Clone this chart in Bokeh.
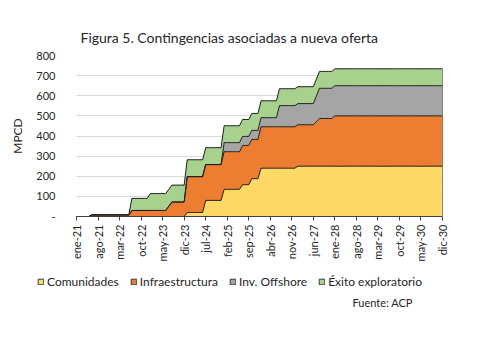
import math
from bokeh.plotting import figure
from bokeh.layouts import column, row
from bokeh.models import Range1d, FixedTicker, Legend, LegendItem, Label, ColumnDataSource
from bokeh.embed import file_html
from bokeh.resources import INLINE

# ---------------- data (MPCD, monthly from ene-21 to dic-30) ----------------
month_names = ["ene", "feb", "mar", "abr", "may", "jun", "jul", "ago", "sep", "oct", "nov", "dic"]
years = ["21", "22", "23", "24", "25", "26", "27", "28", "29", "30"]
month_labels = [f"{mn}-{yy}" for yy in years for mn in month_names]

tick_every = 7

comunidades = [
    0, 0, 0, 0, 0, 0, 0, 0, 0, 0, 0, 0,                                  # 2021
    0, 0, 0, 0, 0, 0, 0, 0, 0, 0, 0, 0,                                  # 2022
    0, 0, 0, 0, 0, 0, 0, 0, 0, 0, 0, 0,                                  # 2023
    20, 20, 20, 20, 20, 20, 80, 80, 80, 80, 80, 80,                      # 2024
    135, 135, 135, 135, 135, 135, 158, 158, 158, 188, 188, 188,          # 2025
    240, 240, 240, 240, 240, 240, 240, 240, 240, 240, 240, 240,          # 2026
    250, 250, 250, 250, 250, 250, 250, 250, 250, 250, 250, 250,          # 2027
    250, 250, 250, 250, 250, 250, 250, 250, 250, 250, 250, 250,          # 2028
    250, 250, 250, 250, 250, 250, 250, 250, 250, 250, 250, 250,          # 2029
    250, 250, 250, 250, 250, 250, 250, 250, 250, 250, 250, 250,          # 2030
]
infraestructura = [
    0, 0, 0, 0, 0, 8, 8, 8, 8, 8, 8, 8,                                  # 2021
    8, 8, 8, 8, 8, 8, 30, 30, 30, 30, 30, 30,                            # 2022
    30, 30, 30, 30, 30, 30, 51, 72, 72, 72, 72, 72,                      # 2023
    178, 178, 178, 178, 178, 178, 178, 178, 178, 178, 178, 178,          # 2024
    187, 187, 187, 187, 187, 187, 195, 195, 195, 195, 195, 195,          # 2025
    206, 206, 206, 206, 206, 206, 206, 206, 206, 206, 206, 206,          # 2026
    206, 206, 206, 206, 206, 206, 221, 237, 237, 237, 237, 237,          # 2027
    250, 250, 250, 250, 250, 250, 250, 250, 250, 250, 250, 250,          # 2028
    250, 250, 250, 250, 250, 250, 250, 250, 250, 250, 250, 250,          # 2029
    250, 250, 250, 250, 250, 250, 250, 250, 250, 250, 250, 250,          # 2030
]
offshore = [
    0, 0, 0, 0, 0, 0, 0, 0, 0, 0, 0, 0,                                  # 2021
    0, 0, 0, 0, 0, 0, 0, 0, 0, 0, 0, 0,                                  # 2022
    0, 0, 0, 0, 0, 0, 0, 0, 0, 0, 0, 0,                                  # 2023
    0, 0, 0, 0, 0, 0, 0, 0, 0, 0, 0, 0,                                  # 2024
    45, 45, 45, 45, 45, 45, 45, 45, 45, 45, 45, 45,                      # 2025
    45, 45, 45, 45, 45, 45, 105, 105, 105, 105, 105, 105,                # 2026
    105, 105, 105, 105, 105, 105, 128, 150, 150, 150, 150, 150,          # 2027
    150, 150, 150, 150, 150, 150, 150, 150, 150, 150, 150, 150,          # 2028
    150, 150, 150, 150, 150, 150, 150, 150, 150, 150, 150, 150,          # 2029
    150, 150, 150, 150, 150, 150, 150, 150, 150, 150, 150, 150,          # 2030
]
exito = [
    0, 0, 0, 0, 0, 0, 0, 0, 0, 0, 0, 0,                                  # 2021
    0, 0, 0, 0, 0, 0, 60, 60, 60, 60, 60, 60,                            # 2022
    84, 84, 84, 84, 84, 84, 84, 84, 84, 84, 84, 84,                      # 2023
    84, 84, 84, 84, 84, 84, 84, 84, 84, 84, 84, 84,                      # 2024
    84, 84, 84, 84, 84, 84, 84, 84, 84, 84, 84, 84,                      # 2025
    84, 84, 84, 84, 84, 84, 84, 84, 84, 84, 84, 84,                      # 2026
    84, 84, 84, 84, 84, 84, 84, 84, 84, 84, 84, 84,                      # 2027
    84, 84, 84, 84, 84, 84, 84, 84, 84, 84, 84, 84,                      # 2028
    84, 84, 84, 84, 84, 84, 84, 84, 84, 84, 84, 84,                      # 2029
    84, 84, 84, 84, 84, 84, 84, 84, 84, 84, 84, 84,                      # 2030
]

series_names = ["Comunidades", "Infraestructura", "Inv. Offshore", "Éxito exploratorio"]
series_values = [comunidades, infraestructura, offshore, exito]
series_colors = ["#FFD966", "#ED7D31", "#A5A5A5", "#A9D18E"]

y_ticks = [0, 100, 200, 300, 400, 500, 600, 700, 800]
y_tick_labels = ["-", "100", "200", "300", "400", "500", "600", "700", "800"]

title_text = "Figura 5. Contingencias asociadas a nueva oferta"
source_text = "Fuente: ACP"
y_label = "MPCD"

# ---------------- layout constants ----------------
FONT = "Lato"
TXT = "#262626"
EDGE = "#1e1e1e"
W = 493
H_TOP = 45
H_MAIN = 221
H_LEG = 346 - H_TOP - H_MAIN


def strip(height):
    """A blank pixel-coordinate canvas (y grows downward) for titles / legend."""
    f = figure(width=W, height=height, output_backend="svg", toolbar_location=None,
               x_range=Range1d(0, W), y_range=Range1d(height, 0),
               min_border_left=0, min_border_right=0, min_border_top=0, min_border_bottom=0)
    f.axis.visible = False
    f.grid.visible = False
    f.outline_line_color = None
    f.background_fill_color = "white"
    f.border_fill_color = "white"
    return f


# ---------------- title strip ----------------
top = strip(H_TOP)
top.add_layout(Label(x=80, y=37, text=title_text, text_font=FONT, text_font_size="14px",
                     text_color=TXT, text_baseline="alphabetic"))

# ---------------- main figure ----------------
n = len(month_labels)
x_idx = list(range(n))
tick_pos = list(range(0, n, tick_every))

p = figure(width=W, height=H_MAIN, output_backend="svg", toolbar_location=None,
           x_range=Range1d(0, n - 1), y_range=Range1d(0, 800),
           min_border_left=76, min_border_right=51, min_border_top=10, min_border_bottom=50)
p.outline_line_color = None
p.background_fill_color = "white"
p.border_fill_color = "white"

data = {"x": x_idx}
keys = ["s0", "s1", "s2", "s3"]
for k, v in zip(keys, series_values):
    data[k] = v
cum = [0] * n
tops = []
for v in series_values:
    cum = [a + b for a, b in zip(cum, v)]
    tops.append(cum)
for i, t in enumerate(tops):
    data[f"top{i}"] = t
src = ColumnDataSource(data)

p.varea_stack(stackers=keys, x="x", color=series_colors, source=src)
for i in range(len(tops)):
    p.line("x", f"top{i}", source=src, line_color=EDGE, line_width=1)
p.segment(x0=[x_idx[-1]], y0=[0], x1=[x_idx[-1]], y1=[tops[-1][-1]], line_color=EDGE, line_width=1)

p.xgrid.grid_line_color = None
p.ygrid.grid_line_color = "#D9D9D9"
p.ygrid.ticker = FixedTicker(ticks=y_ticks)

p.yaxis.ticker = FixedTicker(ticks=y_ticks)
p.yaxis.major_label_overrides = {t: l for t, l in zip(y_ticks, y_tick_labels)}
p.yaxis.axis_line_color = None
p.yaxis.major_tick_line_color = None
p.yaxis.minor_tick_line_color = None
p.yaxis.major_label_standoff = 15
p.yaxis.major_label_text_font = FONT
p.yaxis.major_label_text_font_size = "11px"
p.yaxis.major_label_text_color = TXT
p.yaxis.axis_label = y_label
p.yaxis.axis_label_text_font = FONT
p.yaxis.axis_label_text_font_size = "12px"
p.yaxis.axis_label_text_font_style = "normal"
p.yaxis.axis_label_text_color = TXT
p.yaxis.axis_label_standoff = 8

p.xaxis.ticker = FixedTicker(ticks=tick_pos)
p.xaxis.major_label_overrides = {i: month_labels[i] for i in tick_pos}
p.xaxis.major_label_orientation = math.pi / 2
p.xaxis.axis_line_color = "#404040"
p.xaxis.major_tick_line_color = "#404040"
p.xaxis.major_tick_in = 0
p.xaxis.major_tick_out = 4
p.xaxis.minor_tick_line_color = None
p.xaxis.major_label_standoff = 4
p.xaxis.major_label_text_font = FONT
p.xaxis.major_label_text_font_size = "11px"
p.xaxis.major_label_text_color = TXT

# ---------------- legend strip ----------------
lg = strip(H_LEG)
nan = float("nan")
items = []
for name, col in zip(series_names, series_colors):
    r = lg.quad(left=[nan], right=[nan], top=[nan], bottom=[nan],
                fill_color=col, line_color="#3a3a3a", line_width=1)
    items.append(LegendItem(label=name, renderers=[r]))
legend = Legend(items=items, orientation="horizontal", location=(37, H_LEG - 23),
                glyph_width=7, glyph_height=7, label_standoff=3, spacing=11,
                padding=0, margin=0, border_line_color=None, background_fill_alpha=0,
                label_text_font=FONT, label_text_font_size="12px", label_text_color=TXT,
                label_height=14)
lg.add_layout(legend, "center")
lg.add_layout(Label(x=352, y=36, text=source_text, text_font=FONT, text_font_size="11px",
                    text_color=TXT, text_baseline="middle"))

layout = column(row(top), p, row(lg), spacing=0)
open("out.html", "w").write(file_html(layout, INLINE))
